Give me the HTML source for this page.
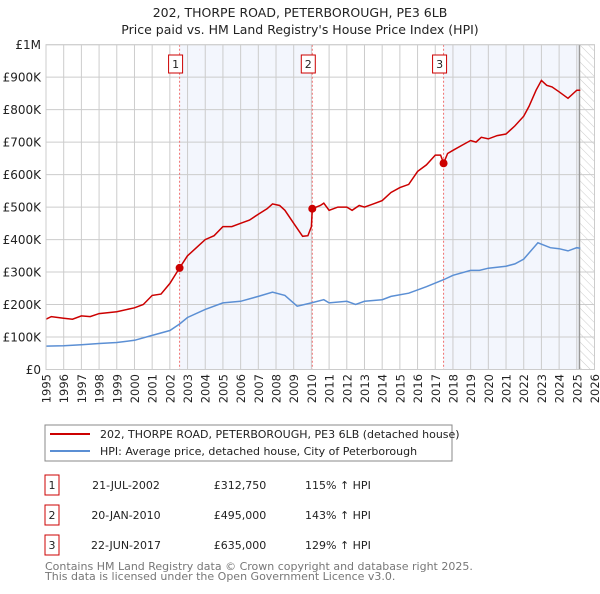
<!DOCTYPE html>
<html><head><meta charset="utf-8"><style>
body{margin:0;background:#fff;font-family:"DejaVu Sans","Liberation Sans",sans-serif;}
svg text{font-family:"DejaVu Sans","Liberation Sans",sans-serif;}
</style></head><body>
<svg id="c" width="600" height="590" xmlns="http://www.w3.org/2000/svg">
<defs><pattern id="hatch" width="6" height="6" patternUnits="userSpaceOnUse" patternTransform="rotate(-45)"><line x1="0" y1="0" x2="0" y2="6" stroke="#ccc" stroke-width="1"/></pattern></defs>
<text x="300" y="17" text-anchor="middle" font-size="12.5" fill="#222">202, THORPE ROAD, PETERBOROUGH, PE3 6LB</text>
<text x="300" y="34" text-anchor="middle" font-size="12.5" fill="#222">Price paid vs. HM Land Registry's House Price Index (HPI)</text>
<g id="plot"></g>
<rect x="45" y="425" width="407" height="36" fill="#fff" stroke="#888"/>
<line x1="50" y1="434" x2="90" y2="434" stroke="#cc0000" stroke-width="2"/>
<text x="100" y="438" font-size="11" fill="#222">202, THORPE ROAD, PETERBOROUGH, PE3 6LB (detached house)</text>
<line x1="50" y1="451" x2="90" y2="451" stroke="#5b8fd4" stroke-width="2"/>
<text x="100" y="455" font-size="11" fill="#222">HPI: Average price, detached house, City of Peterborough</text>
<g id="table" font-size="11" fill="#222"></g>
<text x="45" y="570" font-size="11" fill="#777">Contains HM Land Registry data © Crown copyright and database right 2025.</text>
<text x="45" y="580" font-size="11" fill="#777">This data is licensed under the Open Government Licence v3.0.</text>
</svg>
<script>
const priceYears=[1995,1995.3,1996,1996.5,1997,1997.5,1998,1999,2000,2000.5,2001,2001.5,2002,2002.55,2003,2003.5,2004,2004.5,2005,2005.5,2006,2006.5,2007,2007.5,2007.8,2008.2,2008.5,2009,2009.5,2009.8,2010.0,2010.05,2010.5,2010.7,2011,2011.5,2012,2012.3,2012.7,2013,2013.5,2014,2014.5,2015,2015.5,2016,2016.5,2017,2017.3,2017.47,2017.7,2018,2018.5,2019,2019.3,2019.6,2020,2020.5,2021,2021.5,2022,2022.3,2022.7,2023,2023.3,2023.6,2024,2024.5,2025,2025.2];
const priceValues=[155,163,158,155,165,163,172,178,190,200,228,232,265,312.75,350,375,400,412,440,440,450,460,478,495,510,505,490,450,410,412,440,495,505,512,490,500,500,490,505,500,510,520,545,560,570,610,630,660,660,635,665,675,690,705,700,715,710,720,725,750,780,810,860,890,875,870,855,835,860,860];
const hpiYears=[1995,1996,1997,1998,1999,2000,2001,2002,2002.55,2003,2004,2005,2006,2007,2007.8,2008.5,2009.2,2010,2010.7,2011,2012,2012.5,2013,2014,2014.5,2015.5,2016.5,2017.5,2018,2019,2019.5,2020,2021,2021.5,2022,2022.8,2023.5,2024,2024.5,2025,2025.2];
const hpiValues=[72,73,76,80,83,90,105,120,140,160,185,205,210,225,238,228,195,205,215,205,210,200,210,215,225,235,255,277,290,305,305,312,318,325,340,390,375,372,365,375,373];
const saleYears=[2002.55,2010.05,2017.47];
const saleValues=[312.75,495,635];
const saleLabels=["1","2","3"];
const saleDates=["21-JUL-2002","20-JAN-2010","22-JUN-2017"];
const salePrices=["£312,750","£495,000","£635,000"];
const saleHpi=["115% ↑ HPI","143% ↑ HPI","129% ↑ HPI"];
const yTicks=[0,100,200,300,400,500,600,700,800,900,1000];
const yTickLabels=["£0","£100K","£200K","£300K","£400K","£500K","£600K","£700K","£800K","£900K","£1M"];
const NS="http://www.w3.org/2000/svg";
const X0=46,X1=594.5,Y0=369.5,Y1=44.7,T0=1995,T1=2026,dataEnd=2025.15;
const sx=t=>X0+(t-T0)/(T1-T0)*(X1-X0);
const sy=v=>Y0-v/1000*(Y0-Y1);
const plot=document.getElementById('plot');
function mk(tag,attrs,parent){const e=document.createElementNS(NS,tag);for(const k in attrs)e.setAttribute(k,attrs[k]);(parent||plot).appendChild(e);return e;}
let e;
e=mk('rect',{x:X0,y:Y1,width:X1-X0,height:Y0-Y1,fill:'#fff'});


e=mk('rect',{x:sx(saleYears[0]),y:Y1,width:sx(saleYears[1])-sx(saleYears[0]),height:Y0-Y1,fill:'#f3f6fd'});


e=mk('rect',{x:sx(saleYears[2]),y:Y1,width:sx(dataEnd)-sx(saleYears[2]),height:Y0-Y1,fill:'#f3f6fd'});


e=mk('rect',{x:sx(dataEnd),y:Y1,width:X1-sx(dataEnd),height:Y0-Y1,fill:'url(#hatch)'});


for(let y=T0;y<=T1;y++){
 e=mk('line',{x1:sx(y),x2:sx(y),y1:Y1,y2:Y0,stroke:'#ccc','stroke-width':1});
 
 
 const tx=sx(y)+4.5;
 e=mk('text',{x:tx,y:374,'text-anchor':'end','font-size':11.5,fill:'#222',transform:'rotate(-90 '+tx+' 374)'});
 e.textContent=y;
 
 
}
yTicks.forEach((v,i)=>{
 e=mk('line',{x1:X0,x2:X1,y1:sy(v),y2:sy(v),stroke:'#ccc','stroke-width':1});
 
 
 e=mk('text',{x:41,y:sy(v)+4.5,'text-anchor':'end','font-size':12,fill:'#222'});
 e.textContent=yTickLabels[i];
 
 
});
e=mk('line',{x1:sx(dataEnd),x2:sx(dataEnd),y1:Y1,y2:Y0,stroke:'#999','stroke-width':1.5});


saleYears.forEach((t,i)=>{
 e=mk('line',{x1:sx(t),x2:sx(t),y1:Y1,y2:Y0,stroke:'#f07070','stroke-width':1,'stroke-dasharray':'2,2'});
 
 
});
const pts=(xs,vs)=>xs.map((t,i)=>sx(t).toFixed(1)+','+sy(vs[i]).toFixed(1)).join(' ');
e=mk('polyline',{points:pts(hpiYears,hpiValues),fill:'none',stroke:'#5b8fd4','stroke-width':1.5});


e=mk('polyline',{points:pts(priceYears,priceValues),fill:'none',stroke:'#cc0000','stroke-width':1.5});


saleYears.forEach((t,i)=>{
 e=mk('circle',{cx:sx(t),cy:sy(saleValues[i]),r:4,fill:'#cc0000'});
 
 
 e=mk('rect',{x:sx(t)-11,y:55,width:14,height:18,fill:'#fff',stroke:'#cc0000'});
 
 
 e=mk('text',{x:sx(t)-4,y:68,'text-anchor':'middle','font-size':11,fill:'#222'});
 e.textContent=saleLabels[i];
 
 
});
e=mk('rect',{x:X0,y:Y1,width:X1-X0,height:Y0-Y1,fill:'none',stroke:'#ccc'});


const tbl=document.getElementById('table');
saleLabels.forEach((l,i)=>{
 const y=475+i*30;
 e=mk('rect',{x:45,y:y,width:14,height:20,fill:'#fff',stroke:'#cc0000'},tbl);
 
 
 const cols=[[52,l,'middle'],[126,saleDates[i],'middle'],[240,salePrices[i],'middle'],[305,saleHpi[i],'start']];
 cols.forEach(c=>{
  e=mk('text',{x:c[0],y:y+14,'text-anchor':c[2]},tbl);
  e.textContent=c[1];
  
  
 });
});
</script>
</body></html>
